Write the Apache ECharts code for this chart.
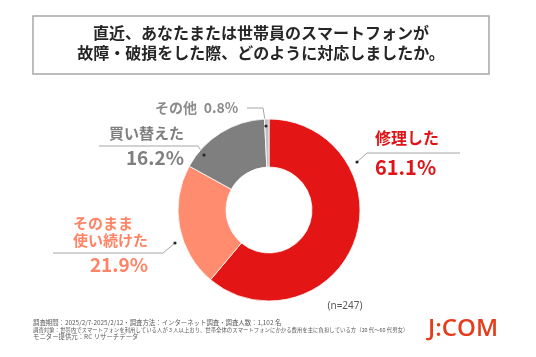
<!DOCTYPE html>
<html>
<head>
<meta charset="utf-8">
<script src="https://cdn.jsdelivr.net/npm/echarts@6/dist/echarts.min.js"></script>
<style>
html,body{margin:0;padding:0;background:#fff;}
#chart{width:536px;height:357px;}
</style>
</head>
<body>
<div id="chart"></div>
<script>
// ---- data ----
const titleLines = ['直近、あなたまたは世帯員のスマートフォンが', '故障・破損をした際、どのように対応しましたか。'];
const categories = ['修理した', 'そのまま\n使い続けた', '買い替えた', 'その他'];
const values = [61.1, 21.9, 16.2, 0.8];
const sampleNote = '(n=247)';
const footnotes = [
  '調査期間：2025/2/7-2025/2/12・調査方法：インターネット調査・調査人数：1,102 名',
  '調査対象：世帯内でスマートフォンを利用している人が 3 人以上おり、世帯全体のスマートフォンにかかる費用を主に負担している方（20 代～60 代男女）',
  'モニター提供元：RC リサーチデータ'
];
const logoText = 'J:COM';

// ---- style / layout ----
const sliceColors = ['#E31515', '#FF8C6E', '#7F7F7F', '#BFBFBF'];
const labelColors = ['#E01418', '#FF8466', '#7F7F7F', '#8C8C8C'];
const JP = '"Noto Sans CJK JP", "Noto Sans", sans-serif';
// label placement: text anchor and leader polyline (start on ring, elbow, end)
const labelPlace = [
  {x: 375, y: 127, align: 'left', nameFs: 16, nameLh: 22, sp: 6, valFs: 20, valLh: 24, valAlign: 'left',
   line: [[357, 162], [367, 153], [460, 153]]},
  {x: 73, y: 215, align: 'left', nameFs: 15, nameLh: 17, sp: 4, valFs: 19, valLh: 24, valAlign: 'right',
   line: [[175, 243], [163, 253], [53, 253]]},
  {x: 109, y: 122, align: 'left', nameFs: 15, nameLh: 22, sp: 2, valFs: 19, valLh: 24, valAlign: 'right',
   line: [[204, 155], [198, 146], [99, 146]]},
  {x: 155, y: 100, align: 'left', single: true, nameFs: 14, valFs: 14, nameLh: 16,
   line: [[266, 126], [263, 108], [247, 108]]}
];

const chart = echarts.init(document.getElementById('chart'), null, {renderer: 'canvas'});

const pieData = categories.map((name, i) => {
  const p = labelPlace[i];
  let fmt;
  if (p.single) {
    fmt = `{n|${name}}  {v|${values[i].toFixed(1)}%}`;
  } else {
    fmt = name.split('\n').map(l => `{n|${l}}`).join('\n') + `\n{sp|}\n{v|${values[i].toFixed(1)}%}`;
  }
  return {
    name: name,
    value: values[i],
    itemStyle: {color: sliceColors[i]},
    label: {
      formatter: fmt,
      color: labelColors[i],
      rich: {
        n: {fontSize: p.nameFs, fontWeight: 'bold', lineHeight: p.nameLh, fontFamily: JP, color: labelColors[i], align: 'left'},
        sp: {lineHeight: p.sp || 0, height: p.sp || 0, fontSize: 1},
        v: {fontSize: p.valFs, fontWeight: 'bold', lineHeight: p.valLh || p.nameLh, fontFamily: JP, color: labelColors[i], align: p.valAlign || 'left'}
      }
    }
  };
});

const graphics = [
  {type: 'rect', shape: {x: 33, y: 16, width: 456, height: 58}, style: {fill: '#fff', stroke: '#A6A6A6', lineWidth: 1.5}, z: -1},
  {type: 'text', x: 345, y: 306, style: {text: sampleNote, fill: '#595959', font: '10px "Noto Sans", sans-serif', align: 'center', verticalAlign: 'middle'}},
  {type: 'text', x: 33, y: 322.5, style: {text: footnotes[0], fill: '#595959', font: '6.4px ' + JP, verticalAlign: 'middle'}},
  {type: 'text', x: 33, y: 329.5, style: {text: footnotes[1], fill: '#595959', font: '5.4px ' + JP, verticalAlign: 'middle'}},
  {type: 'text', x: 33, y: 336.5, style: {text: footnotes[2], fill: '#595959', font: '6.4px ' + JP, verticalAlign: 'middle'}},
  {type: 'text', x: 463, y: 329, style: {text: logoText, fill: '#E43C1C', font: '600 24px "Open Sans", "Noto Sans", sans-serif', align: 'center', verticalAlign: 'middle'}}
];
labelPlace.forEach(p => {
  graphics.push({type: 'circle', shape: {cx: p.line[0][0], cy: p.line[0][1], r: 1.6}, style: {fill: '#262626'}, z: 10});
});

chart.setOption({
  animation: false,
  title: {
    text: titleLines.join('\n'),
    left: 261, top: 23, textAlign: 'center', padding: 0,
    textStyle: {fontSize: 16, fontWeight: 'bold', lineHeight: 20, color: '#262626', fontFamily: JP}
  },
  graphic: graphics,
  series: [{
    type: 'pie',
    center: [269, 210],
    radius: [43, 91],
    startAngle: 90,
    clockwise: true,
    avoidLabelOverlap: false,
    silent: true,
    itemStyle: {borderColor: '#fff', borderWidth: 0.8},
    label: {show: true, position: 'outside'},
    labelLine: {show: true, length: 10, length2: 10, lineStyle: {color: '#A6A6A6', width: 1}},
    labelLayout: function (params) {
      const p = labelPlace[params.dataIndex];
      return {x: p.x, y: p.y, align: p.align, verticalAlign: 'top', labelLinePoints: p.line};
    },
    data: pieData
  }]
});
</script>
</body>
</html>
